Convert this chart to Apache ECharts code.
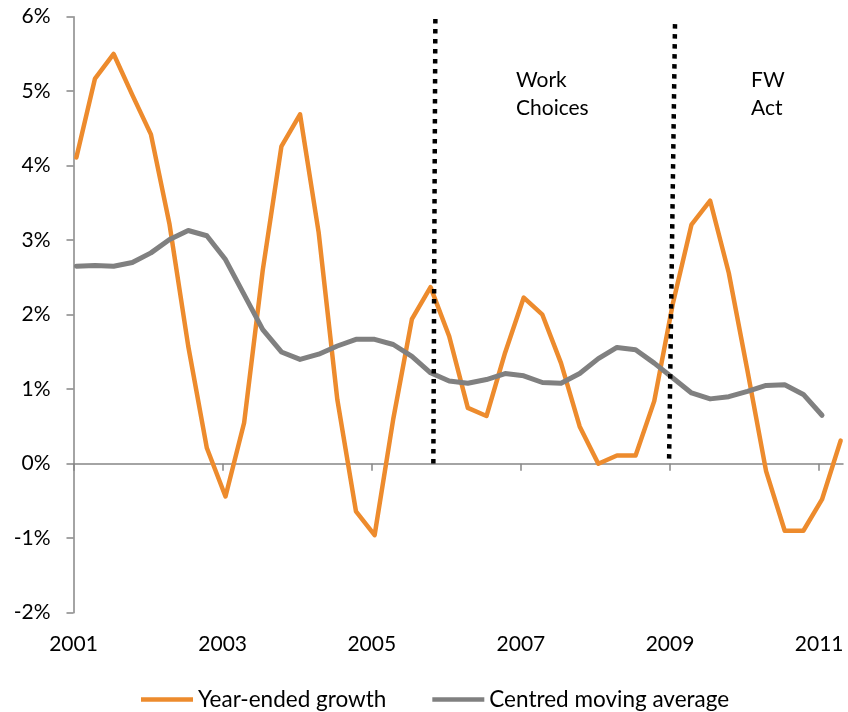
<!DOCTYPE html>
<html><head><meta charset="utf-8">
<script src="https://cdn.jsdelivr.net/npm/echarts@6/dist/echarts.min.js"></script>
<style>html,body{margin:0;padding:0;background:#fff}#c{width:848px;height:712px}</style>
</head><body><div id="c"></div>
<script>
// ---------- data ----------
const BASE_YEAR = 2001;
const yearTickLabels = ['2001', '2003', '2005', '2007', '2009', '2011'];
const yTickLabels = ['-2%', '-1%', '0%', '1%', '2%', '3%', '4%', '5%', '6%'];
const seriesNames = ['Year-ended growth', 'Centred moving average'];

// quarterly observations, Jan 2001 .. Apr 2011 (mid-month)
const growth = [4.11, 5.17, 5.50, 4.95, 4.42, 3.21, 1.58, 0.21, -0.44, 0.55,
  2.60, 4.26, 4.69, 3.10, 0.86, -0.64, -0.96, 0.60, 1.94, 2.37,
  1.71, 0.75, 0.64, 1.49, 2.23, 2.00, 1.35, 0.50, 0.00, 0.11,
  0.11, 0.84, 2.15, 3.21, 3.53, 2.56, 1.25, -0.10, -0.90, -0.90,
  -0.48, 0.31];
const movingAvg = [2.65, 2.66, 2.65, 2.70, 2.83, 3.01, 3.13, 3.06, 2.74, 2.27,
  1.80, 1.50, 1.40, 1.47, 1.58, 1.67, 1.67, 1.60, 1.44, 1.22,
  1.11, 1.08, 1.13, 1.21, 1.18, 1.09, 1.08, 1.21, 1.41, 1.56,
  1.53, 1.35, 1.15, 0.95, 0.87, 0.90, 0.97, 1.05, 1.06, 0.93,
  0.65];

// policy events (vertical dotted markers), in decimal years
const eventLabels = ['Work\nChoices', 'FW\nAct'];
const eventTopYear = [2005.853, 2009.067];
const eventBottomYear = [2005.826, 2008.987];
const eventTopValue = [5.97, 5.90];
const eventBottomValue = [0, 0];

// ---------- helpers ----------
const quarterDates = [];
for (let i = 0; i < growth.length; i++) {
  const y = BASE_YEAR + Math.floor(i / 4);
  const m = 1 + 3 * (i % 4);
  quarterDates.push(y + '-' + String(m).padStart(2, '0') + '-15');
}
function dateToX(d) {
  const [y, m, day] = d.split('-').map(Number);
  return (y - BASE_YEAR) + (m - 1) / 12 + (day - 1) / 365;
}
const xs = quarterDates.map(dateToX);
const yearTickPos = yearTickLabels.map(s => Number(s) - BASE_YEAR);

const FONT = 'Lato';
const AXIS_COLOR = '#868686';

const chart = echarts.init(document.getElementById('c'), null, {renderer: 'canvas'});
const option = {
  animation: false,
  backgroundColor: '#fff',
  textStyle: {fontFamily: FONT},
  grid: {left: 73.5, right: 5, top: 16.7, bottom: 99.3, containLabel: false},
  legend: {
    data: seriesNames,
    left: 136, top: 683,
    icon: 'rect', itemWidth: 52, itemHeight: 4.5, itemGap: 46,
    textStyle: {fontFamily: FONT, fontSize: 22.5, color: '#000'}
  },
  xAxis: [{
    type: 'value', min: 0, max: 10.32,
    axisLine: {show: false, onZero: false},
    axisTick: {show: false},
    splitLine: {show: false},
    axisLabel: {
      customValues: yearTickPos,
      formatter: v => yearTickLabels[yearTickPos.indexOf(Math.round(v))] || '',
      margin: 21, fontFamily: FONT, fontSize: 21, color: '#000'
    }
  }, {
    type: 'value', min: 0, max: 10.32, position: 'bottom',
    axisLine: {show: true, onZero: true, lineStyle: {color: AXIS_COLOR, width: 1.5}},
    axisTick: {show: true, customValues: yearTickPos, length: 7, inside: false, lineStyle: {color: AXIS_COLOR, width: 1.5}},
    axisLabel: {show: false},
    splitLine: {show: false}
  }],
  yAxis: {
    type: 'value', min: -2, max: 6, interval: 1,
    axisLine: {show: true, lineStyle: {color: AXIS_COLOR, width: 1.5}},
    axisTick: {show: true, length: 7, inside: false, lineStyle: {color: AXIS_COLOR, width: 1.5}},
    splitLine: {show: false},
    axisLabel: {
      formatter: v => yTickLabels[Math.round(v) + 2],
      margin: 23, fontFamily: FONT, fontSize: 21, color: '#000'
    }
  },
  graphic: [
    {type: 'text', left: 516, top: 66, style: {text: eventLabels[0], font: '21px Lato', lineHeight: 28, fill: '#000'}},
    {type: 'text', left: 751, top: 66, style: {text: eventLabels[1], font: '21px Lato', lineHeight: 28, fill: '#000'}}
  ],
  series: [
    {
      name: seriesNames[0], type: 'line', xAxisIndex: 0,
      data: growth.map((v, i) => [xs[i], v]),
      symbol: 'none', color: '#ED8B2D',
      lineStyle: {color: '#ED8B2D', width: 4.5, join: 'round', cap: 'round'}, z: 2
    },
    {
      name: seriesNames[1], type: 'line', xAxisIndex: 0,
      data: movingAvg.map((v, i) => [xs[i], v]),
      symbol: 'none', color: '#808080',
      lineStyle: {color: '#808080', width: 5, join: 'round', cap: 'round'}, z: 3
    },
    ...eventLabels.map((name, k) => ({
      name: 'event' + k, type: 'line', xAxisIndex: 0, silent: true,
      data: [[eventTopYear[k] - BASE_YEAR, eventTopValue[k]], [eventBottomYear[k] - BASE_YEAR, eventBottomValue[k]]],
      symbol: 'none',
      lineStyle: {color: '#000', width: 4.5, type: [4.5, 5.5], cap: 'butt'}, z: 4
    }))
  ]
};
chart.setOption(option);
</script>
</body></html>
